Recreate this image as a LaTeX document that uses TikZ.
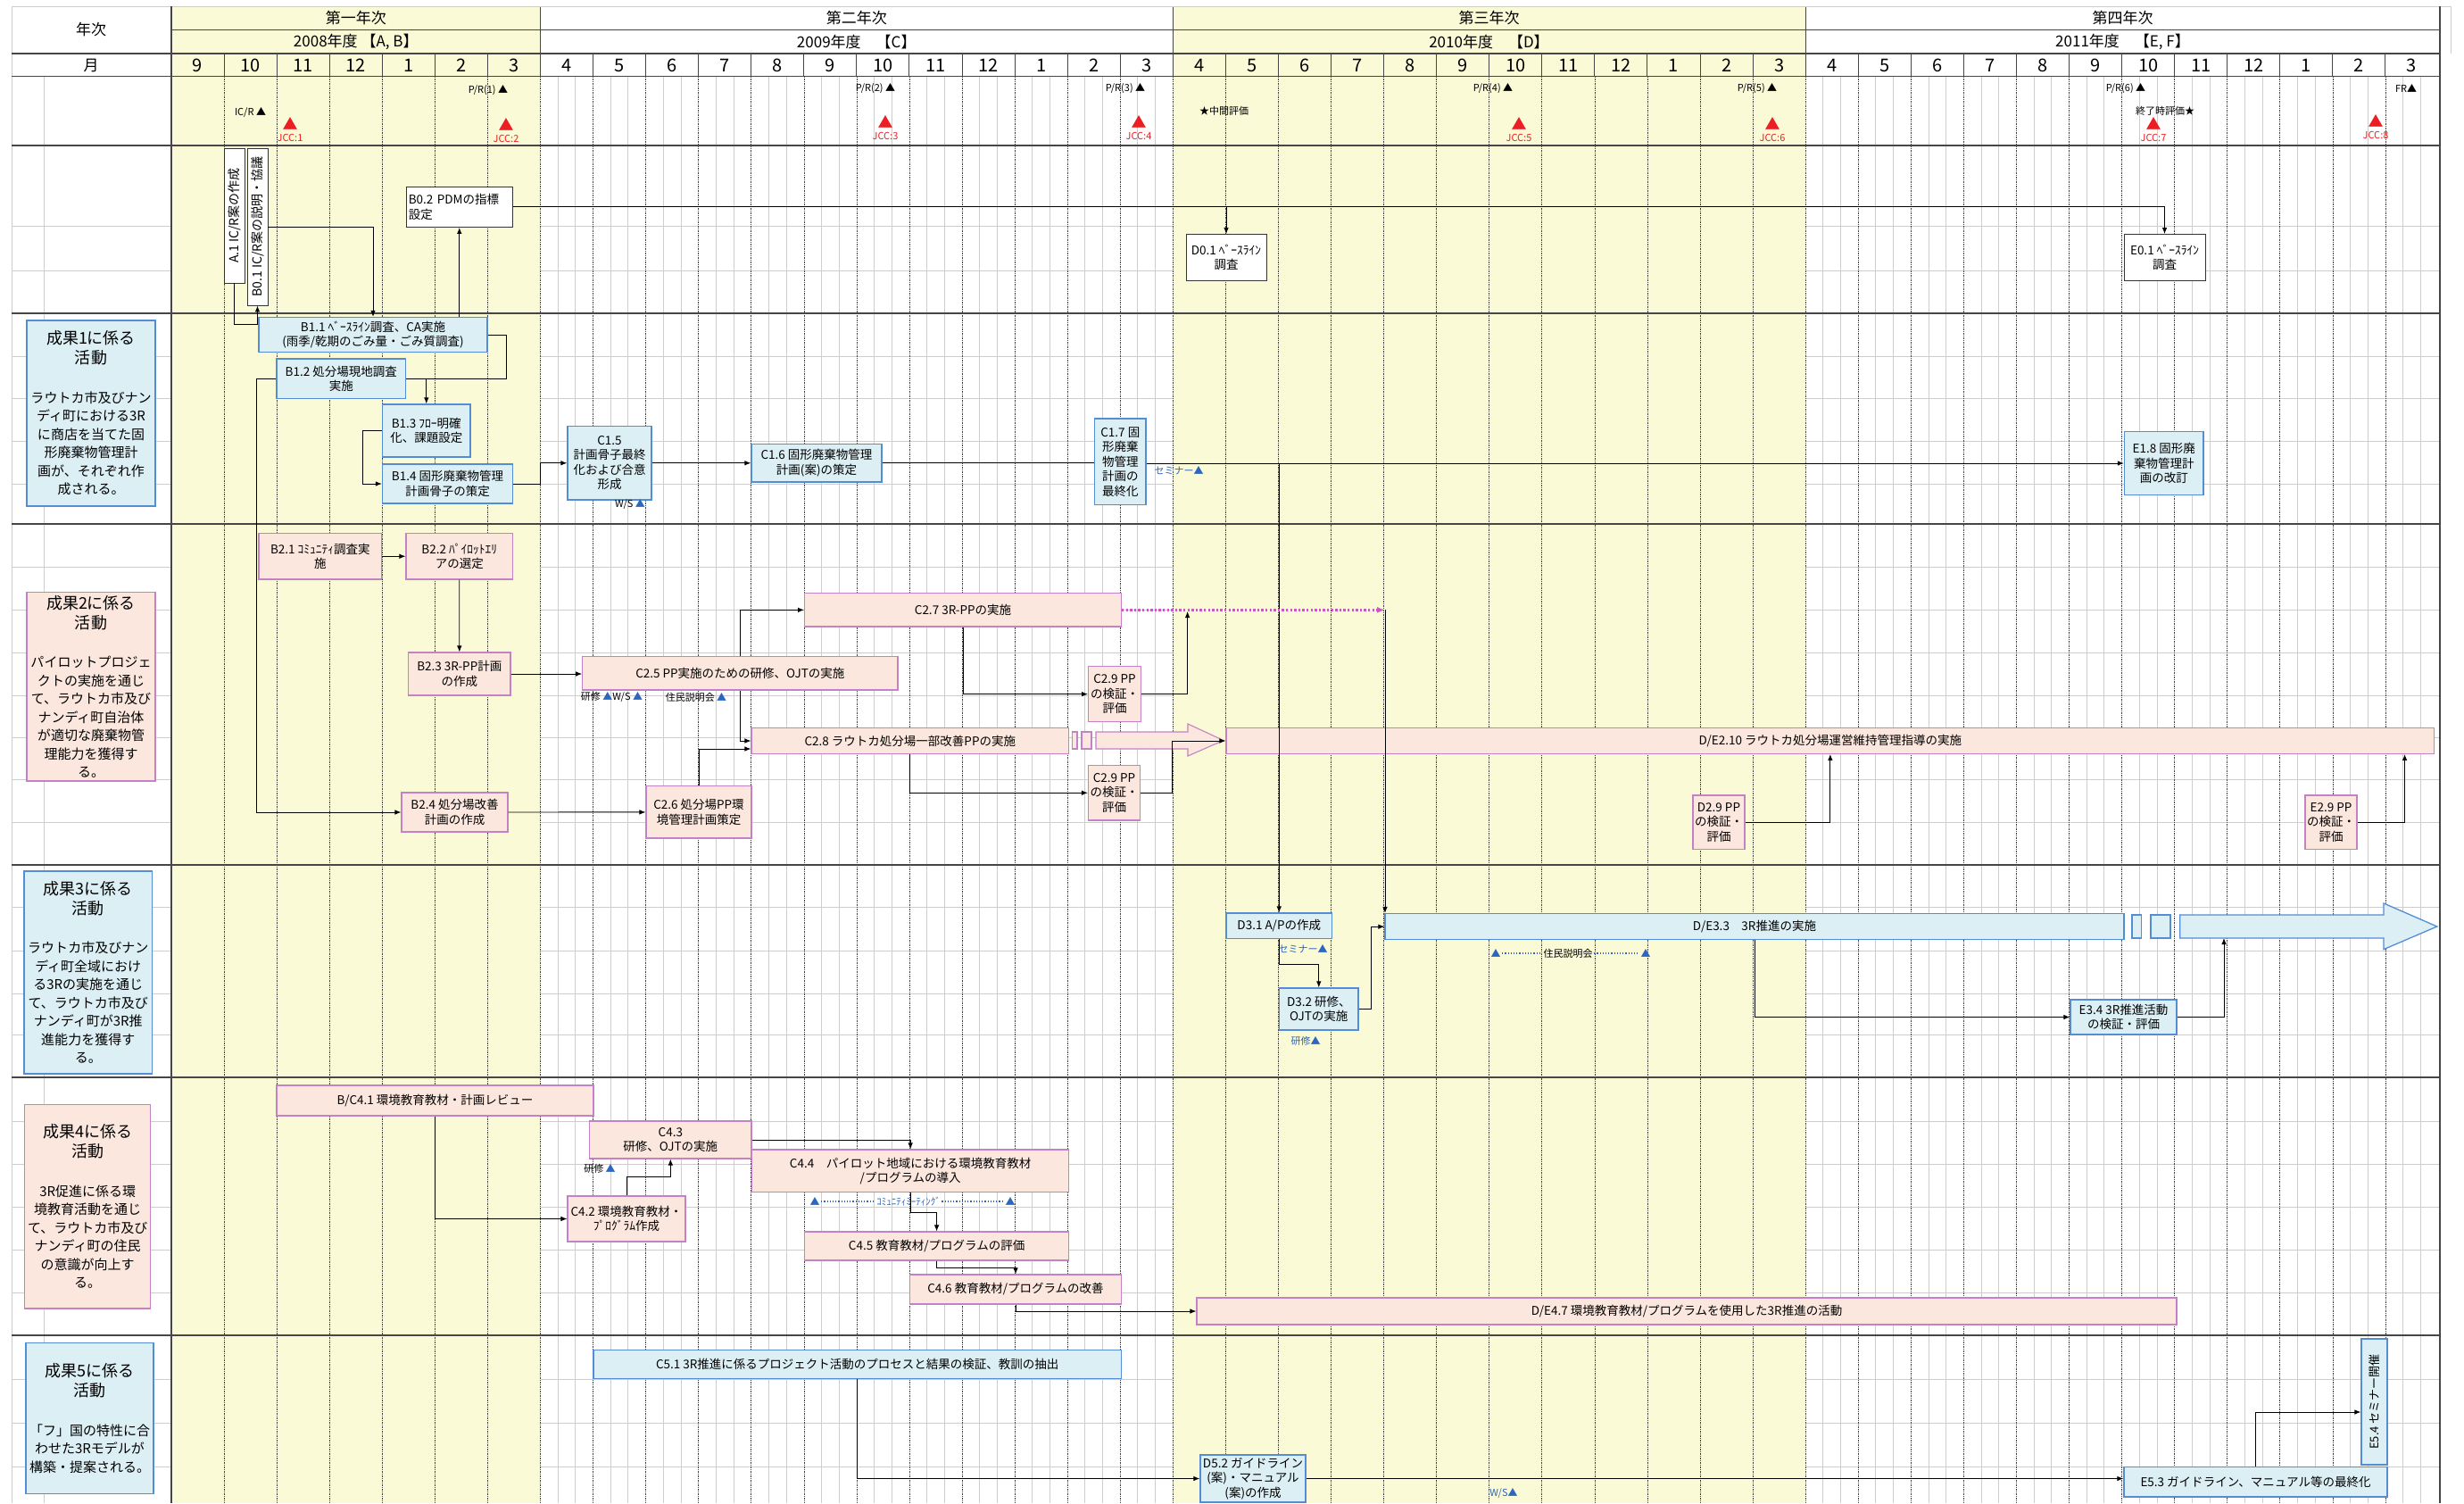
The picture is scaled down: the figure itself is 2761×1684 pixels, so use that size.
\documentclass[tikz,border=0pt]{standalone}
\usepackage{fontspec}
\setmainfont{Noto Sans CJK JP}
\usepackage{tikz}
\usetikzlibrary{arrows.meta, calc}

\definecolor{yearyellow}{RGB}{250,250,214}
\definecolor{gridgray}{RGB}{205,205,205}
\definecolor{rulegray}{RGB}{70,70,70}
\definecolor{bluefill}{RGB}{220,239,245}
\definecolor{blueline}{RGB}{84,141,212}
\definecolor{pinkfill}{RGB}{252,231,223}
\definecolor{pinkline}{RGB}{196,130,196}
\definecolor{markblue}{RGB}{44,102,190}
\definecolor{jccred}{RGB}{235,30,35}
\definecolor{ppmagenta}{RGB}{205,85,200}

\newcommand\outttl{\fontsize{18}{22}\selectfont}
\newcommand\outbody{\fontsize{15}{20.5}\selectfont}

\begin{document}
\begin{tikzpicture}[
  x = 1pt, y = -1pt,
  every node/.style = {font=\fontsize{13.5}{16.5}\selectfont, inner sep=1.5pt},
  sz/.style 2 args = {minimum width=#1pt, minimum height=#2pt},
  wbox/.style  = {rectangle, draw=black!80, line width=0.9pt, fill=white, align=center},
  bbox/.style  = {rectangle, draw=blueline, line width=1.3pt, fill=bluefill, align=center},
  pbox/.style  = {rectangle, draw=pinkline, line width=1.1pt, fill=pinkfill, align=center},
  outb/.style  = {bbox, text width=138pt},
  outp/.style  = {pbox, text width=138pt},
  vbox/.style  = {rotate=90, inner sep=0pt, font=\fontsize{14}{16}\selectfont},
  arr/.style   = {-{Latex[length=7pt,width=5.5pt]}, line width=0.9pt},
  ln/.style    = {line width=0.9pt},
  dotarr/.style = {-{Latex[length=9pt,width=7pt]}, ppmagenta, line width=2.4pt,
                   dash pattern=on 2.4pt off 2.2pt},
  dotblue/.style = {markblue, line width=1.2pt, dotted},
  mile/.style  = {font=\fontsize{11}{13}\selectfont},
  jcc/.style   = {text=jccred, font=\fontsize{11}{13}\selectfont},
  jcctri/.style = {text=jccred, font=\fontsize{17}{17}\selectfont, inner sep=0pt},
  evt/.style   = {text=markblue, font=\fontsize{11}{13}\selectfont},
  evk/.style   = {font=\fontsize{11}{13}\selectfont},
  hdr/.style   = {font=\fontsize{17}{20}\selectfont},
  mon/.style   = {font=\fontsize{20}{22}\selectfont},
  gridln/.style = {gridgray, line width=1pt},
  monln/.style = {black!75, line width=0.7pt, dash pattern=on 1.5pt off 1pt},
  secln/.style = {rulegray, line width=1.4pt}
]
\useasboundingbox (0,0) rectangle (2761,1684);
\fill[white] (0,0) rectangle (2761,1684);

% ---- grid ---------------------------------------------------------------
\foreach \i in {0,...,42} {
  \draw[gridln] ({192+(\i+1/3)*59.07},85.5) -- ({192+(\i+1/3)*59.07},1684);
  \draw[gridln] ({192+(\i+2/3)*59.07},85.5) -- ({192+(\i+2/3)*59.07},1684);
}
\foreach \y in {253.5,303.6,399,446.5,494,542,635.6,683.6,731,779,826.5,873.5,921,
                1016,1065,1113,1159,1256,1304,1352,1400,1448,1545,1594.5,1643}
  \draw[gridln] (13,\y) -- (2734,\y);
\draw[gridln] (49,85.5) -- (49,1684);

% first and third year shaded
\fill[yearyellow] (192,7) rectangle (605.5,1684);
\fill[yearyellow] (1314,7) rectangle (2023,1684);

\foreach \i in {1,...,42} {
  \draw[monln] ({192+\i*59.07},85.5) -- ({192+\i*59.07},1684);
  \draw[rulegray, line width=1pt] ({192+\i*59.07},60) -- ({192+\i*59.07},85.5);
}
\foreach \x in {605.5,1314,2023}
  \draw[rulegray, line width=1pt] (\x,7) -- (\x,60);

\draw[gridln] (13,7) -- (2746,7);
\draw[gridln] (13,7) -- (13,1684);
\draw[gridln] (2746,7) -- (2746,60);
\draw[secln] (192,7) -- (192,1684);
\draw[secln] (2734,7) -- (2734,1684);
\draw[rulegray, line width=1.2pt] (192,33.5) -- (2734,33.5);
\foreach \y in {60,85.5,163,351,587,969,1207,1496}
  \draw[secln] (13,\y) -- (2734,\y);

% ---- header -------------------------------------------------------------
\node[hdr, at={(102,33.5)}] (hyear) {年次};
\node[hdr, at={(102,73)}]   (hmon)  {月};
\node[hdr, at={(398.75,20)}] (yr1) {第一年次};
\node[hdr, at={(398.75,47)}] (fy1) {2008年度 【A, B】};
\node[hdr, at={(959.75,20)}] (yr2) {第二年次};
\node[hdr, at={(959.75,47)}] (fy2) {2009年度　【C】};
\node[hdr, at={(1668.5,20)}] (yr3) {第三年次};
\node[hdr, at={(1668.5,47)}] (fy3) {2010年度　【D】};
\node[hdr, at={(2378.5,20)}] (yr4) {第四年次};
\node[hdr, at={(2378.5,47)}] (fy4) {2011年度　【E, F】};
\foreach \m [count=\i from 0] in {9,10,11,12,1,2,3,4,5,6,7,8,9,10,11,12,1,2,3,
    4,5,6,7,8,9,10,11,12,1,2,3,4,5,6,7,8,9,10,11,12,1,2,3}
  \node[mon, at={({192+(\i+0.5)*59.07},73)}] (m\i) {\m};

% ---- milestones ---------------------------------------------------------
\node[mile, at={(280.5,125.5)}] (icr) {IC/R ▲};
\node[mile, at={(547,101)}]  (pr1) {P/R(1) ▲};
\node[mile, at={(981,99)}]   (pr2) {P/R(2) ▲};
\node[mile, at={(1261,99)}]  (pr3) {P/R(3) ▲};
\node[mile, at={(1673,99)}]  (pr4) {P/R(4) ▲};
\node[mile, at={(1969,99)}]  (pr5) {P/R(5) ▲};
\node[mile, at={(2382,99)}]  (pr6) {P/R(6) ▲};
\node[mile, at={(2696,99)}]  (fr)  {FR▲};
\node[mile, at={(1371.5,124)}] (mte) {★中間評価};
\node[mile, at={(2426,124)}]   (tev) {終了時評価★};
\foreach \x/\y/\n in {325/138/1, 567/139/2, 992/136/3, 1276/136/4,
                      1702/138/5, 1986/138/6, 2413/138/7, 2662/135/8} {
  \node[jcctri, at={(\x,\y)}] (jt\n) {▲};
  \node[jcc, at={(\x,\y+16.5)}] (jl\n) {JCC:\n};
}

% ---- preparation row ----------------------------------------------------
\node[wbox, vbox, sz={151}{23.5}, at={(262.75,241.5)}] (a1)  {A.1 IC/R案の作成};
\node[wbox, vbox, sz={176}{23},   at={(288.5,254)}]    (b01) {B0.1 IC/R案の説明・協議};
\node[wbox, sz={119.5}{45.5}, align=left, text width=114pt, at={(514.75,231.75)}] (b02) {B0.2 PDMの指標\\設定};
\node[wbox, sz={90}{52},  at={(1374,288.5)}]   (d01) {D0.1 ﾍﾞｰｽﾗｲﾝ\\調査};
\node[wbox, sz={91}{52},  at={(2425.5,288.5)}] (e01) {E0.1 ﾍﾞｰｽﾗｲﾝ\\調査};

% ---- output 1 -----------------------------------------------------------
\node[outb, sz={144}{208}, at={(102,463)}] (out1)
  {{\outttl 成果1に係る\\活動\par}\vspace{23pt}{\outbody ラウトカ市及びナン\\ディ町における3R\\に商店を当てた固\\形廃棄物管理計\\画が、それぞれ作\\成される。\par}};
\node[bbox, sz={256}{39},    at={(418,375)}]      (b11) {B1.1 ﾍﾞｰｽﾗｲﾝ調査、CA実施\\(雨季/乾期のごみ量・ごみ質調査)};
\node[bbox, sz={144.5}{44.5}, at={(382.25,424.25)}] (b12) {B1.2 処分場現地調査\\実施};
\node[bbox, sz={98.4}{59},   at={(477.8,482.5)}]  (b13) {B1.3 ﾌﾛｰ明確\\化、課題設定};
\node[bbox, sz={146}{44},    at={(501.5,542)}]    (b14) {B1.4 固形廃棄物管理\\計画骨子の策定};
\node[bbox, sz={94}{82.5},   at={(683,518.75)}]   (c15) {C1.5\\計画骨子最終\\化および合意\\形成};
\node[bbox, sz={146}{42.5},  at={(915,518.75)}]   (c16) {C1.6 固形廃棄物管理\\計画(案)の策定};
\node[bbox, sz={57.4}{96.5}, at={(1255.3,517.25)}] (c17) {C1.7 固\\形廃棄\\物管理\\計画の\\最終化};
\node[bbox, sz={88.5}{71},   at={(2424.75,519)}]  (e18) {E1.8 固形廃\\棄物管理計\\画の改訂};
\node[evk, at={(706,565)}]  (ws1)  {W/S {\color{markblue}▲}};
\node[evt, at={(1321,527)}] (sem1) {セミナー▲};

% ---- output 2 -----------------------------------------------------------
\node[outp, sz={144}{211.4}, at={(102,769.3)}] (out2)
  {{\outttl 成果2に係る\\活動\par}\vspace{23pt}{\outbody パイロットプロジェ\\クトの実施を通じ\\て、ラウトカ市及び\\ナンディ町自治体\\が適切な廃棄物管\\理能力を獲得す\\る。\par}};
\node[pbox, sz={137.7}{51.5}, at={(358.85,623.25)}] (b21) {B2.1 ｺﾐｭﾆﾃｨ調査実\\施};
\node[pbox, sz={119.5}{51.5}, at={(514.75,623.25)}] (b22) {B2.2 ﾊﾟｲﾛｯﾄｴﾘ\\アの選定};
\node[pbox, sz={114.4}{48},   at={(514.8,755)}]     (b23) {B2.3 3R-PP計画\\の作成};
\node[pbox, sz={119}{44},     at={(509.5,910)}]     (b24) {B2.4 処分場改善\\計画の作成};
\node[pbox, sz={353.3}{37.4}, at={(829.35,754.3)}]  (c25) {C2.5 PP実施のための研修、OJTの実施};
\node[pbox, sz={118}{58.3},   at={(783,909.85)}]    (c26) {C2.6 処分場PP環\\境管理計画策定};
\node[pbox, sz={354.9}{37.3}, at={(1079,683.35)}]   (c27) {C2.7 3R-PPの実施};
\node[pbox, sz={355.6}{28.8}, at={(1019.8,830)}]    (c28) {C2.8 ラウトカ処分場一部改善PPの実施};
\node[pbox, sz={58.9}{62.2},  at={(1249,777.6)}]    (c29a) {C2.9 PP\\の検証・\\評価};
\node[pbox, sz={58}{61.5},    at={(1248.5,888.25)}] (c29b) {C2.9 PP\\の検証・\\評価};
\node[pbox, sz={1353.7}{28.8}, at={(2050.85,830)}]  (de210) {D/E2.10 ラウトカ処分場運営維持管理指導の実施};
\node[pbox, sz={58}{60.6},    at={(1926,921.3)}]    (d29) {D2.9 PP\\の検証・\\評価};
\node[pbox, sz={58}{60.6},    at={(2612,921.3)}]    (e29) {E2.9 PP\\の検証・\\評価};
\node[evk, at={(685.5,781)}] (ws2)  {研修 {\color{markblue}▲}W/S {\color{markblue}▲}};
\node[evk, at={(780,781)}]   (brf1) {住民説明会 {\color{markblue}▲}};
% C2.8 carried on
\filldraw[draw=pinkline, fill=pinkfill, line width=1.1pt] (1201.6,820) rectangle (1207,839);
\filldraw[draw=pinkline, fill=pinkfill, line width=1.1pt] (1212,820) rectangle (1223,839);
\filldraw[draw=pinkline, fill=pinkfill, line width=1.1pt]
  (1228,820) -- (1331,820) -- (1331,811) -- (1371,829.5) -- (1331,847) -- (1331,839) -- (1228,839) -- cycle;

% ---- output 3 -----------------------------------------------------------
\node[outb, sz={143.5}{227}, at={(98.75,1089.5)}] (out3)
  {{\outttl 成果3に係る\\活動\par}\vspace{23pt}{\outbody ラウトカ市及びナン\\ディ町全域におけ\\る3Rの実施を通じ\\て、ラウトカ市及び\\ナンディ町が3R推\\進能力を獲得す\\る。\par}};
\node[bbox, sz={118.5}{28.6}, at={(1433.25,1037.3)}] (d31) {D3.1 A/Pの作成};
\node[bbox, sz={88.4}{47},    at={(1477.8,1130.5)}]  (d32) {D3.2 研修、\\OJTの実施};
\node[bbox, sz={828}{29.1},   at={(1966,1038.15)}]   (de33) {D/E3.3　3R推進の実施};
\node[bbox, sz={119}{39},     at={(2379.5,1139.5)}]  (e34) {E3.4 3R推進活動\\の検証・評価};
\node[evt, at={(1460,1063.6)}] (sem2) {セミナー▲};
\node[evt, at={(1463,1166.5)}] (trn1) {研修▲};
\node[evt, at={(1676,1068)}]   (mtgl) {▲};
\node[evk, at={(1757,1068)}]   (mtgt) {住民説明会};
\node[evt, at={(1844,1068)}]   (mtgr) {▲};
\draw[dotblue] (mtgl) -- (mtgt);
\draw[dotblue] (mtgt) -- (mtgr);
% D/E3.3 carried on
\filldraw[draw=blueline, fill=bluefill, line width=1.3pt] (2389,1025) rectangle (2399.5,1051);
\filldraw[draw=blueline, fill=bluefill, line width=1.3pt] (2410,1025) rectangle (2432,1051);
\filldraw[draw=blueline, fill=bluefill, line width=1.3pt]
  (2442.7,1025) -- (2671,1025) -- (2671,1012) -- (2730.8,1038) -- (2671,1063.6) -- (2671,1051) -- (2442.7,1051) -- cycle;

% ---- output 4 -----------------------------------------------------------
\node[outp, sz={141}{228.5}, at={(98.2,1351.75)}] (out4)
  {{\outttl 成果4に係る\\活動\par}\vspace{23pt}{\outbody 3R促進に係る環\\境教育活動を通じ\\て、ラウトカ市及び\\ナンディ町の住民\\の意識が向上す\\る。\par}};
\node[pbox, sz={355}{34},     at={(487.5,1233)}]    (c41) {B/C4.1 環境教育教材・計画レビュー};
\node[pbox, sz={132}{51},     at={(702,1365.5)}]    (c42) {C4.2 環境教育教材・\\ﾌﾟﾛｸﾞﾗﾑ作成};
\node[pbox, sz={181.3}{42},   at={(751.35,1277)}]   (c43) {C4.3\\研修、OJTの実施};
\node[pbox, sz={354.9}{47.6}, at={(1020.15,1311.8)}] (c44) {C4.4　パイロット地域における環境教育教材\\/プログラムの導入};
\node[pbox, sz={296}{32},     at={(1049.6,1396)}]   (c45) {C4.5 教育教材/プログラムの評価};
\node[pbox, sz={237}{33},     at={(1138,1444.5)}]   (c46) {C4.6 教育教材/プログラムの改善};
\node[pbox, sz={1098}{30},    at={(1890,1469)}]     (de47) {D/E4.7 環境教育教材/プログラムを使用した3R推進の活動};
\node[evk, at={(672,1309)}]  (trn2) {研修 {\color{markblue}▲}};
\node[evt, at={(913,1346)}]  (cml)  {▲};
\node[evt, at={(1018,1346)}] (cmt)  {ｺﾐｭﾆﾃｨﾐｰﾃｨﾝｸﾞ};
\node[evt, at={(1132,1346)}] (cmr)  {▲};
\draw[dotblue] (cml) -- (cmt);
\draw[dotblue] (cmt) -- (cmr);

% ---- output 5 -----------------------------------------------------------
\node[outb, sz={143}{168.8}, at={(100.5,1589.1)}] (out5)
  {{\outttl 成果5に係る\\活動\par}\vspace{23pt}{\outbody 「フ」国の特性に合\\わせた3Rモデルが\\構築・提案される。\par}};
\node[bbox, sz={591.5}{32},  at={(960.75,1528.7)}] (c51) {C5.1 3R推進に係るプロジェクト活動のプロセスと結果の検証、教訓の抽出};
\node[bbox, sz={118}{53},    at={(1404,1656.5)}]   (d52) {D5.2 ガイドライン\\(案)・マニュアル\\(案)の作成};
\node[bbox, sz={295}{33.4},  at={(2527.5,1660.3)}] (e53) {E5.3 ガイドライン、マニュアル等の最終化};
\node[bbox, vbox, sz={141}{29}, font=\fontsize{13}{15}\selectfont, at={(2660.5,1570.5)}] (e54) {E5.4 セミナー開催};
\node[evt, at={(1685,1673)}] (ws3) {W/S▲};

% ---- connectors ---------------------------------------------------------
\coordinate (dotend)  at (1552,683.35);
\coordinate (dotjoin) at (1330.6,685);
\coordinate (e3tail)  at (2492,1051);

\draw[arr] (a1.west) -- ++(0,45.5) -| (b01.west);
\draw[arr] (b01.south) -| (b11.north);
\draw[arr] (b11.north -| b02.south) -- (b02.south);
\draw[arr] (b02.east) -| (e01.north);
\draw[arr] (d01.north |- b02.east) -- (d01.north);

\draw[arr] (b11.east) -- ++(21,0) |- (b12.east -| b13.north) -- (b13.north);
\draw[ln]  (b12.east) -- (b12.east -| b13.north);
\draw[arr] (b13.west) -- ++(-21.6,0) |- (b14.west);
\draw[arr] (b14.east) -- ++(30.5,0) |- (c15.west);
\draw[arr] (c15.east) -- (c16.west);
\draw[ln]  (c16.east) -- (c16.east -| c17.west);
\draw[arr] (c17.east |- e18.west) -- (e18.west);
\draw[arr] (d31.north |- e18.west) -- (d31.north);
\draw[arr] (b12.west) -- ++(-22,0) |- (b24.west);

\draw[arr] (b21) -- (b22);
\draw[arr] (b22) -- (b23);
\draw[arr] (b23.east) -- (b23.east -| c25.west);
\draw[arr] (c25.north) |- (c27.west);
\draw[arr] (c25.south) |- (c28.west);
\draw[arr] (b24) -- (c26);
\draw[arr] (c26.north) |- ($(c28.west)+(0,9)$);
\draw[arr] (c27.south) |- (c29a.west);
\draw[arr] (c29a.east) -| (dotjoin);
\draw[dotarr] (c27.east) -- (dotend);
\draw[arr] (dotend) -- (dotend |- de33.north);
\draw[arr] (c28.south) |- (c29b.west);
\draw[arr] (c29b.east) -- ++(35,0) |- (de210.west);
\draw[arr] (d29.east) -| (de210.south);
\draw[arr] (e29.east) -| ($(de210.south east)+(-33.7,0)$);

\draw[arr] (d31.south) -- ++(0,28.4) -| (d32.north);
\draw[arr] (d32.east) -- ++(14,0) |- (de33.west);
\draw[arr] (de33.south) |- (e34.west);
\draw[arr] (e34.east) -| (e3tail);

\draw[arr] (c41.south) |- (c42.west);
\draw[arr] (c42.north) -- ++(0,-21.5) -| (c43.south);
\draw[arr] (c43.east) -| (c44.north);
\draw[arr] (c44.south) -- ++(0,22.4) -| (c45.north);
\draw[arr] (c45.south) -- ++(0,8) -| (c46.north);
\draw[arr] (c46.south) |- (de47.west);

\draw[arr] (c51.south) |- (d52.west);
\draw[arr] (d52.east) -- (d52.east -| e53.west);
\draw[arr] (e53.north) |- ($(e54.north)+(0,11.5)$);

\end{tikzpicture}
\end{document}
